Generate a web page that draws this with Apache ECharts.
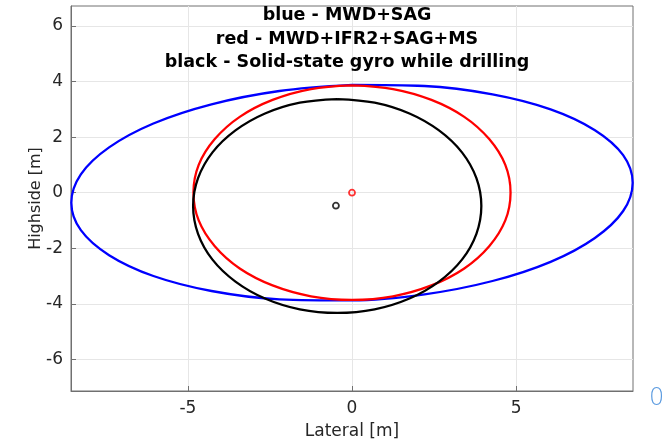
<!DOCTYPE html>
<html>
<head>
<meta charset="utf-8">
<script src="https://cdn.jsdelivr.net/npm/echarts@6/dist/echarts.min.js"></script>
<style>
  html, body { margin: 0; padding: 0; background: #fff; }
  #chart { width: 664px; height: 445px; }
</style>
</head>
<body>
<div id="chart"></div>
<script>
// error ellipses, points (each loop starts and ends at its top)
const blueX = [0, -2.21, -4.28, -6.05, -7.40, -8.26, -8.55, -8.26, -7.40, -6.05, -4.28, -2.21, 0,
    2.21, 4.28, 6.05, 7.40, 8.26, 8.55, 8.26, 7.40, 6.05, 4.28, 2.21, 0];
const blueY = [3.88, 3.66, 3.18, 2.49, 1.63, 0.66, -0.36, -1.35, -2.25, -3.00, -3.54, -3.84, -3.88,
    -3.66, -3.18, -2.49, -1.63, -0.66, 0.36, 1.35, 2.25, 3.00, 3.54, 3.84, 3.88];

const redX = [0, -1.25, -2.42, -3.42, -4.18, -4.67, -4.83, -4.67, -4.18, -3.42, -2.42, -1.25, 0,
    1.25, 2.42, 3.42, 4.18, 4.67, 4.83, 4.67, 4.18, 3.42, 2.42, 1.25, 0];
const redY = [3.86, 3.73, 3.34, 2.73, 1.93, 1.00, 0, -1.00, -1.93, -2.73, -3.34, -3.73, -3.86,
    -3.73, -3.34, -2.73, -1.93, -1.00, 0, 1.00, 1.93, 2.73, 3.34, 3.73, 3.86];

const blackX = [-0.45, -1.59, -2.65, -3.55, -4.25, -4.69, -4.84, -4.69, -4.25, -3.55, -2.65, -1.59, -0.45,
    0.69, 1.75, 2.65, 3.35, 3.79, 3.94, 3.79, 3.35, 2.65, 1.75, 0.69, -0.45];
const blackY = [3.37, 3.24, 2.85, 2.24, 1.45, 0.52, -0.48, -1.48, -2.41, -3.20, -3.81, -4.20, -4.33,
    -4.20, -3.81, -3.20, -2.41, -1.48, -0.48, 0.52, 1.45, 2.24, 2.85, 3.24, 3.37];

const redCenter = [0, 0];
const blackCenter = [-0.49, -0.47];

const xTicks = [-5, 0, 5];
const yTicks = [-6, -4, -2, 0, 2, 4, 6];
const xRange = [-8.56, 8.56];
const yRange = [-7.14, 6.72];

const titleLines = [
    "blue - MWD+SAG",
    "red - MWD+IFR2+SAG+MS",
    "black - Solid-state gyro while drilling"
];

function zip(xs, ys) {
    return xs.map((x, i) => [x, ys[i]]);
}

const chart = echarts.init(document.getElementById("chart"));

const labelFont = {
    color: "#262626",
    fontFamily: "DejaVu Sans",
    fontSize: 17
};

function ellipse(color, xs, ys) {
    return {
        type: "line",
        data: zip(xs, ys),
        smooth: 0.35,
        symbol: "none",
        lineStyle: { color: color, width: 2.3 },
        silent: true
    };
}

function centre(color, pt) {
    return {
        type: "scatter",
        data: [pt],
        symbol: "circle",
        symbolSize: 6,
        itemStyle: {
            color: "rgba(255,255,255,0)",
            borderColor: color,
            borderWidth: 1.8
        },
        z: 5
    };
}

chart.setOption({
    animation: false,
    title: {
        text: titleLines.join("\n"),
        left: 347,
        top: 4,
        textAlign: "center",
        padding: 0,
        textStyle: {
            fontFamily: "DejaVu Sans",
            fontWeight: "bold",
            fontSize: 17.5,
            lineHeight: 23.5,
            color: "#000"
        }
    },
    grid: {
        left: 71,
        top: 6,
        right: 31,
        bottom: 53,
        show: true,
        borderColor: "#707070",
        borderWidth: 1
    },
    xAxis: {
        type: "value",
        min: xRange[0],
        max: xRange[1],
        name: "Lateral [m]",
        nameLocation: "middle",
        nameGap: 32,
        nameMoveOverlap: false,
        nameTextStyle: labelFont,
        axisLine: { show: true, onZero: false, lineStyle: { color: "#707070" } },
        axisTick: {
            show: true,
            inside: true,
            length: 5,
            customValues: xTicks,
            lineStyle: { color: "#707070" }
        },
        axisLabel: Object.assign({ margin: 9, customValues: xTicks }, labelFont),
        splitLine: { show: true, lineStyle: { color: "#e6e6e6", width: 1 } }
    },
    yAxis: {
        type: "value",
        min: yRange[0],
        max: yRange[1],
        name: "Highside [m]",
        nameLocation: "middle",
        nameGap: 27,
        nameMoveOverlap: false,
        nameTextStyle: Object.assign({}, labelFont, { fontSize: 16 }),
        axisLine: { show: true, onZero: false, lineStyle: { color: "#707070" } },
        axisTick: {
            show: true,
            inside: true,
            length: 5,
            customValues: yTicks,
            lineStyle: { color: "#707070" }
        },
        axisLabel: Object.assign({ margin: 8, customValues: yTicks }, labelFont),
        splitLine: { show: true, lineStyle: { color: "#e6e6e6", width: 1 } }
    },
    graphic: [{
        type: "text",
        left: 649,
        top: 387,
        style: {
            text: "0",
            fontFamily: "DejaVu Sans",
            fontSize: 24,
            fontWeight: "lighter",
            fill: "#5b9be0"
        }
    }],
    series: [
        ellipse("#0000ff", blueX, blueY),
        ellipse("#ff0000", redX, redY),
        ellipse("#000000", blackX, blackY),
        centre("#ff0000", redCenter),
        centre("#000000", blackCenter)
    ]
});

window.addEventListener("resize", () => chart.resize());
</script>
</body>
</html>
